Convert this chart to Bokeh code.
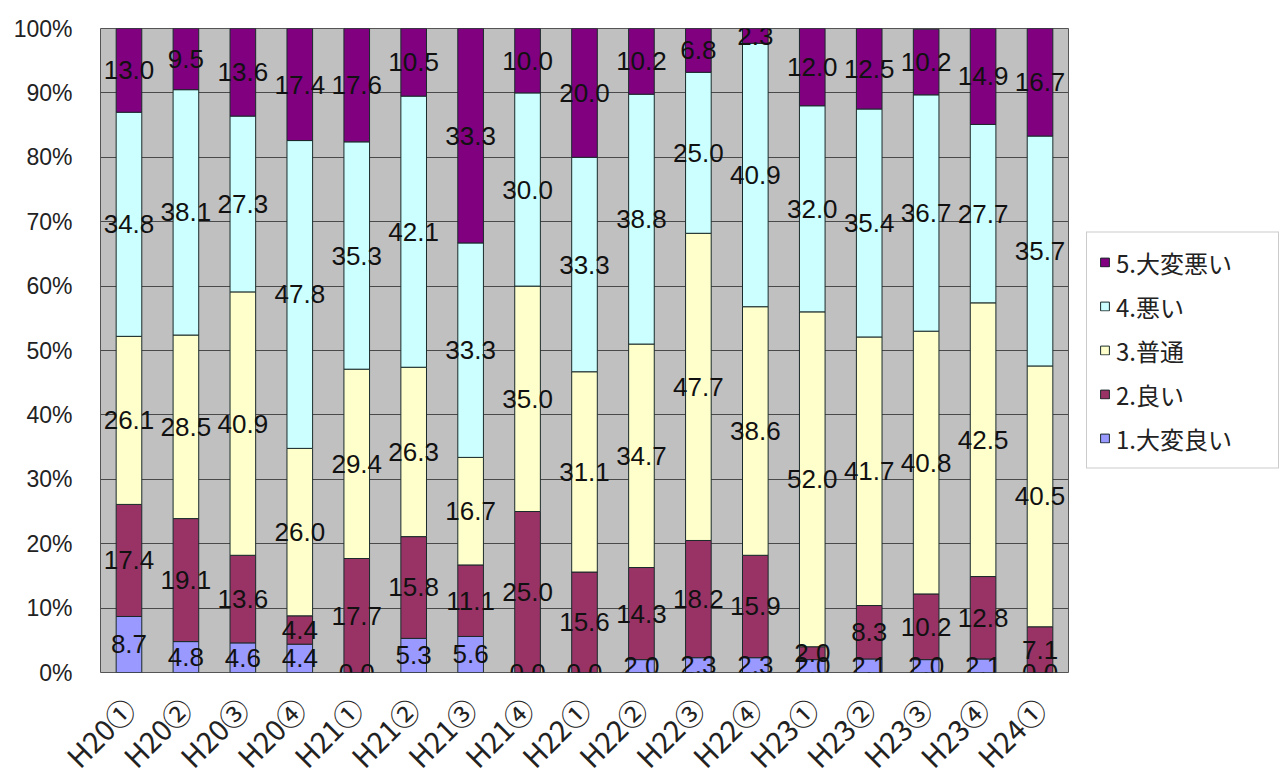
import numpy as np
from bokeh.plotting import figure
from bokeh.models import ColumnDataSource, Legend, LegendItem, FactorRange, FixedTicker, NumeralTickFormatter
from bokeh.core.properties import value
from bokeh.embed import file_html
from bokeh.resources import INLINE
from math import pi

categories = ["H20①", "H20②", "H20③", "H20④", "H21①", "H21②", "H21③", "H21④",
              "H22①", "H22②", "H22③", "H22④", "H23①", "H23②", "H23③", "H23④", "H24①"]

s1 = [8.7, 4.8, 4.6, 4.4, 0.0, 5.3, 5.6, 0.0, 0.0, 2.0, 2.3, 2.3, 2.0, 2.1, 2.0, 2.1, 0.0]
s2 = [17.4, 19.1, 13.6, 4.4, 17.7, 15.8, 11.1, 25.0, 15.6, 14.3, 18.2, 15.9, 2.0, 8.3, 10.2, 12.8, 7.1]
s3 = [26.1, 28.5, 40.9, 26.0, 29.4, 26.3, 16.7, 35.0, 31.1, 34.7, 47.7, 38.6, 52.0, 41.7, 40.8, 42.5, 40.5]
s4 = [34.8, 38.1, 27.3, 47.8, 35.3, 42.1, 33.3, 30.0, 33.3, 38.8, 25.0, 40.9, 32.0, 35.4, 36.7, 27.7, 35.7]
s5 = [13.0, 9.5, 13.6, 17.4, 17.6, 10.5, 33.3, 10.0, 20.0, 10.2, 6.8, 2.3, 12.0, 12.5, 10.2, 14.9, 16.7]

series_names = ["1.大変良い", "2.良い", "3.普通", "4.悪い", "5.大変悪い"]
colors = ["#9999ff", "#993366", "#ffffcc", "#ccffff", "#800080"]
y_ticks = [0, 10, 20, 30, 40, 50, 60, 70, 80, 90, 100]

series = [s1, s2, s3, s4, s5]
keys = ["s1", "s2", "s3", "s4", "s5"]
data = {"cat": categories}
for k, s in zip(keys, series):
    data[k] = s
source = ColumnDataSource(data)

p = figure(x_range=FactorRange(*categories), y_range=(0, 100),
           frame_width=968, frame_height=644,
           min_border_left=100, min_border_top=28, min_border_bottom=100, min_border_right=207,
           output_backend="svg", toolbar_location=None)

p.background_fill_color = "#c0c0c0"
p.border_fill_color = "white"
p.outline_line_color = "#555555"
p.xgrid.grid_line_color = None
p.ygrid.grid_line_color = "#4a4a4a"
p.ygrid.grid_line_width = 1

renderers = p.vbar_stack(keys, x="cat", width=0.45, color=colors, source=source,
                         line_color="#1a2a2a", line_width=1)

# data labels
arr = np.array(series)
cum = np.cumsum(arr, axis=0)
mids = cum - arr / 2.0
lx, ly, lt = [], [], []
for i in range(len(series)):
    for j, c in enumerate(categories):
        lx.append(c)
        ly.append(mids[i, j])
        lt.append(f"{arr[i, j]:.1f}")
lsrc = ColumnDataSource(dict(x=lx, y=ly, t=lt))
p.text(x="x", y="y", text="t", source=lsrc, text_align="center", text_baseline="middle",
       text_font=value("Liberation Sans"), text_font_size="26px", text_color="#111111")

# axes
p.yaxis.ticker = FixedTicker(ticks=y_ticks)
p.yaxis.formatter = NumeralTickFormatter(format="0")
p.yaxis.major_label_overrides = {t: f"{t}%" for t in y_ticks}
p.yaxis.major_label_text_font = "Liberation Sans"
p.yaxis.major_label_text_font_size = "23px"
p.yaxis.major_label_text_color = "#222222"
p.yaxis.axis_line_color = None
p.yaxis.major_tick_line_color = None
p.yaxis.minor_tick_line_color = None
p.yaxis.major_label_standoff = 22

p.xaxis.major_label_orientation = pi / 4
p.xaxis.major_label_text_font = "Noto Sans CJK JP"
p.xaxis.major_label_text_font_size = "29px"
p.xaxis.major_label_text_color = "#222222"
p.xaxis.axis_line_color = None
p.xaxis.major_tick_line_color = None
p.xaxis.major_label_standoff = 24

items = [LegendItem(label=series_names[i], renderers=[renderers[i]]) for i in range(4, -1, -1)]
legend = Legend(items=items, location="center_left",
                label_text_font="Noto Sans CJK JP", label_text_font_size="24px",
                label_text_color="#222222", label_height=30, label_width=150,
                glyph_width=11, glyph_height=11, spacing=9, padding=12,
                label_standoff=6, margin=18,
                border_line_color="#999999", background_fill_color="white")
p.add_layout(legend, "right")

open("out.html", "w").write(file_html(p, INLINE))
